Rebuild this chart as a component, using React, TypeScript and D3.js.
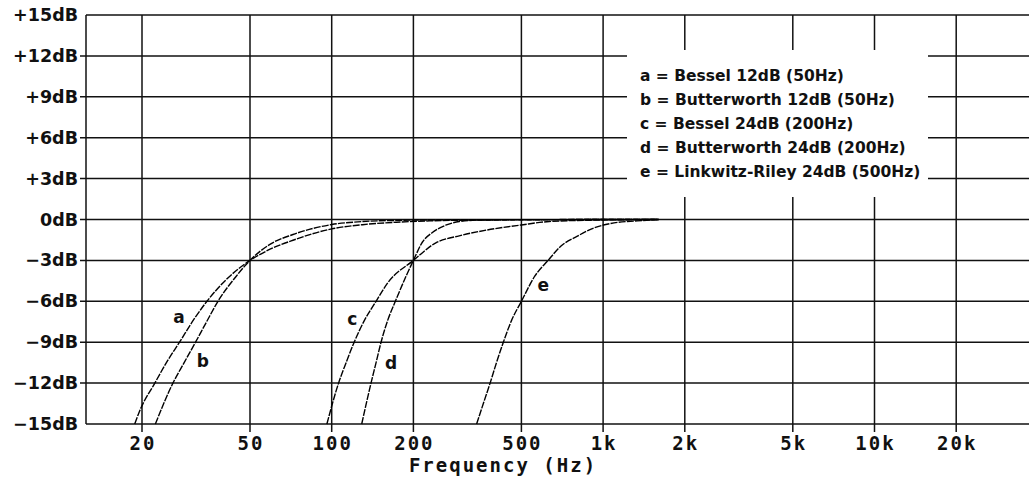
import * as d3 from "d3";

// axis ticks
const FREQ_TICKS = [20, 50, 100, 200, 500, 1000, 2000, 5000, 10000, 20000];
const FREQ_LABELS = ["20", "50", "100", "200", "500", "1k", "2k", "5k", "10k", "20k"];
const DB_TICKS = [15, 12, 9, 6, 3, 0, -3, -6, -9, -12, -15];
const DB_LABELS = [
  "+15dB", "+12dB", "+9dB", "+6dB", "+3dB", "0dB",
  "\u22123dB", "\u22126dB", "\u22129dB", "\u221212dB", "\u221215dB",
];

// curves as [Hz, dB]
const BESSEL_12_50: [number, number][] = [
  [18.8, -15], [19.7, -13.95], [22.3, -12], [24.6, -10.5], [27.5, -9], [31, -7.35],
  [34.7, -6], [40.9, -4.4], [50, -3], [59, -2.2], [72, -1.52], [100, -0.69],
  [130, -0.38], [173, -0.2], [230, -0.1], [350, -0.04], [700, -0.01], [1600, 0],
];
const BUTTER_12_50: [number, number][] = [
  [22.4, -15], [26, -12], [28.6, -10.5], [31.5, -9], [34.6, -7.5], [38.1, -6],
  [44.5, -4.16], [50, -3], [59, -1.84], [72, -1.1], [100, -0.37], [130, -0.15],
  [180, -0.06], [300, -0.02], [1600, 0],
];
const BESSEL_24_200: [number, number][] = [
  [96, -15], [106, -12], [113, -10.5], [121, -9], [132, -7.4],
  [145.7, -6], [160.8, -4.65], [200, -3], [242, -1.71], [295, -1.2], [371, -0.78],
  [500, -0.4], [632, -0.15], [900, -0.05], [1600, 0],
];
const BUTTER_24_200: [number, number][] = [
  [129, -15], [139.6, -12], [145.7, -10.5], [152, -9], [160.8, -7.4], [171.6, -6],
  [187.9, -4.16], [200, -3], [216, -1.65], [235, -0.95], [263, -0.42], [295, -0.15],
  [350, -0.04], [500, -0.01], [1600, 0],
];
const LR_24_500: [number, number][] = [
  [342, -15], [362, -13.5], [383.4, -12], [404.7, -10.5], [429, -9], [460, -7.4],
  [500, -6], [560, -4.16], [627, -3], [698, -1.96], [804, -1.22], [928, -0.61],
  [1067, -0.29], [1337, -0.1], [1600, 0],
];

const SERIES = [BESSEL_12_50, BUTTER_12_50, BESSEL_24_200, BUTTER_24_200, LR_24_500];
const CURVE_NAMES = ["a", "b", "c", "d", "e"];
const LEGEND_LABELS = [
  "a = Bessel 12dB (50Hz)",
  "b = Butterworth 12dB (50Hz)",
  "c = Bessel 24dB (200Hz)",
  "d = Butterworth 24dB (200Hz)",
  "e = Linkwitz-Riley 24dB (500Hz)",
];
// where each curve's letter sits, in Hz / dB
const LABEL_FREQ = [27.4, 33.5, 119, 165.4, 602];
const LABEL_DB = [-7.6, -10.8, -7.75, -11.0, -5.25];

const W = 1029;
const H = 484;
const left = 86;
const top = 15;
const bottom = 424;

export default function App() {
  const x = d3.scaleLog().domain([20, 20000]).range([142, 956.2]);
  const y = d3.scaleLinear().domain([-15, 15]).range([bottom, top]);

  const line = d3
    .line<[number, number]>()
    .x((d) => x(d[0]))
    .y((d) => y(d[1]))
    .curve(d3.curveMonotoneX);

  const ink = "#111";
  const boldSans = "'DejaVu Sans', sans-serif";
  const mono = "'DejaVu Sans Mono', monospace";

  return (
    <svg
      width={W}
      height={H}
      style={{ position: "absolute", left: 0, top: 0, background: "#fff" }}
    >
      <rect width={W} height={H} fill="#fff" />

      {/* horizontal grid + y ticks */}
      {DB_TICKS.map((t, i) => {
        const edge = t === 15 || t === -15;
        return (
          <g key={t}>
            <line
              x1={edge ? left : left - 6}
              x2={W}
              y1={y(t)}
              y2={y(t)}
              stroke={ink}
              strokeWidth={1.5}
            />
            <text
              x={78}
              y={y(t) + 6}
              textAnchor="end"
              fontFamily={boldSans}
              fontWeight="bold"
              fontSize={17.5}
              fill={ink}
            >
              {DB_LABELS[i]}
            </text>
          </g>
        );
      })}

      {/* vertical grid + x ticks */}
      {FREQ_TICKS.map((f, i) => (
        <g key={f}>
          <line
            x1={x(f)}
            x2={x(f)}
            y1={top}
            y2={bottom + 8}
            stroke={ink}
            strokeWidth={1.5}
          />
          <text
            x={x(f) + 1}
            y={450}
            textAnchor="middle"
            fontFamily={mono}
            fontWeight="bold"
            fontSize={19}
            letterSpacing={2}
            fill={ink}
          >
            {FREQ_LABELS[i]}
          </text>
        </g>
      ))}
      <line x1={left} x2={left} y1={top} y2={bottom} stroke={ink} strokeWidth={1.5} />

      <text
        x={503}
        y={472}
        textAnchor="middle"
        fontFamily={mono}
        fontWeight="bold"
        fontSize={19}
        letterSpacing={2}
        fill={ink}
      >
        Frequency (Hz)
      </text>

      {/* legend */}
      <rect x={627} y={50} width={301} height={147} fill="#fff" />
      {LEGEND_LABELS.map((s, i) => (
        <text
          key={s}
          x={640}
          y={81 + i * 24}
          fontFamily={boldSans}
          fontWeight="bold"
          fontSize={15.5}
          fill={ink}
        >
          {s}
        </text>
      ))}

      {/* curves */}
      {SERIES.map((s, i) => (
        <path
          key={CURVE_NAMES[i]}
          d={line(s) ?? ""}
          fill="none"
          stroke="#000"
          strokeWidth={1.4}
          strokeDasharray="7 1.2"
        />
      ))}
      {CURVE_NAMES.map((n, i) => (
        <text
          key={n}
          x={x(LABEL_FREQ[i])}
          y={y(LABEL_DB[i])}
          textAnchor="middle"
          fontFamily={boldSans}
          fontWeight="bold"
          fontSize={17}
          fill={ink}
        >
          {n}
        </text>
      ))}
    </svg>
  );
}
